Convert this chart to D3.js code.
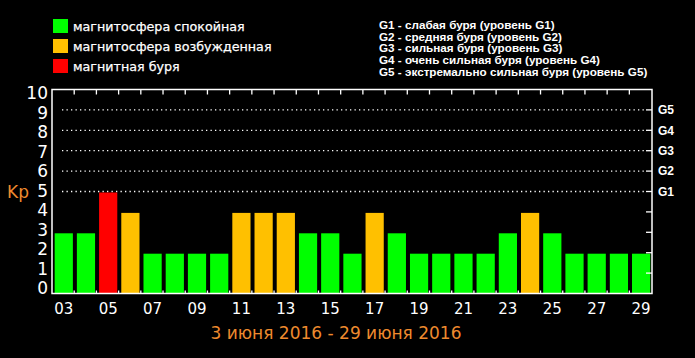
<!DOCTYPE html>
<html><head><meta charset="utf-8">
<script src="https://cdn.jsdelivr.net/npm/d3@7"></script>
<style>html,body{margin:0;padding:0;background:#000;overflow:hidden}</style>
</head><body>
<svg id="c" width="695" height="358"></svg>
<script>
const days = ["03","04","05","06","07","08","09","10","11","12","13","14","15","16","17","18","19","20","21","22","23","24","25","26","27","28","29"];
const kp =   [3,3,5,4,2,2,2,2,4,4,4,3,3,2,4,3,2,2,2,2,3,4,3,2,2,2,2];
const yTicks = [0,1,2,3,4,5,6,7,8,9,10];
const gLevels = [5,6,7,8,9];
const gLabels = ["G1","G2","G3","G4","G5"];
const legendLabels = ["магнитосфера спокойная","магнитосфера возбужденная","магнитная буря"];
const legendColors = ["#00ff00","#ffc000","#ff0000"];
const gLegend = ["G1 - слабая буря (уровень G1)","G2 - средняя буря (уровень G2)","G3 - сильная буря (уровень G3)","G4 - очень сильная буря (уровень G4)","G5 - экстремально сильная буря (уровень G5)"];
const title = "3 июня 2016 - 29 июня 2016";
const yLabel = "Kp";

const svg = d3.select("#c");
svg.append("rect").attr("width",695).attr("height",358).attr("fill","#000");
const L=52, R=652, T=89.5, B=293.5;
const x = d3.scaleBand().domain(days).range([L,R]).paddingInner(0.18).paddingOuter(0.1).align(0.6);
const y = d3.scaleLinear().domain([0,10]).range([B,T]);
const yLab = d3.scaleLinear().domain([0,10]).range([288,93]);
const colorFor = v => v>=5 ? legendColors[2] : (v>=4 ? legendColors[1] : legendColors[0]);
const orange = "#ee8a2e";
const step = x.step();

// dotted grid lines for G levels
svg.append("g").selectAll("line").data(gLevels).join("line")
  .attr("x1",62).attr("x2",R-6).attr("y1",d=>y(d)).attr("y2",d=>y(d))
  .attr("stroke","#fff").attr("stroke-width",1.3).attr("stroke-dasharray","1.3,3.2");

// bars
svg.append("g").selectAll("rect").data(days).join("rect")
  .attr("x",d=>x(d)).attr("width",x.bandwidth())
  .attr("y",(d,i)=>y(kp[i])+1).attr("height",(d,i)=>B-y(kp[i])-1)
  .attr("fill",(d,i)=>colorFor(kp[i]));

// frame
svg.append("rect").attr("x",L).attr("y",T).attr("width",R-L).attr("height",B-T)
  .attr("fill","none").attr("stroke","#fff").attr("stroke-width",1.5);

// top and bottom ticks at day boundaries
const bounds = d3.range(1,days.length).map(k=>L+k*step);
svg.append("g").selectAll("line").data(bounds).join("line")
  .attr("x1",d=>d).attr("x2",d=>d).attr("y1",T).attr("y2",T+5).attr("stroke","#fff").attr("stroke-width",1.3);
svg.append("g").selectAll("line").data(bounds).join("line")
  .attr("x1",d=>d).attr("x2",d=>d).attr("y1",B).attr("y2",B-3).attr("stroke","#fff").attr("stroke-width",1.3);

// right ticks
svg.append("g").selectAll("line").data(yTicks.slice(1,10)).join("line")
  .attr("x1",R-6).attr("x2",R).attr("y1",d=>y(d)).attr("y2",d=>y(d)).attr("stroke","#fff").attr("stroke-width",1.3);

// left labels
svg.append("g").selectAll("text").data(yTicks).join("text")
  .attr("x",48).attr("y",d=>yLab(d)).attr("dy","0.36em").attr("text-anchor","end")
  .attr("fill","#fff").attr("font-family","DejaVu Sans, Verdana, sans-serif").attr("font-size",17)
  .text(d=>d);

// G labels right
svg.append("g").selectAll("text").data(gLevels).join("text")
  .attr("x",658).attr("y",(d)=>y(d)).attr("dy","0.36em")
  .attr("fill","#fff").attr("font-family","Liberation Sans, Arial, sans-serif").attr("font-weight","bold").attr("font-size",12)
  .text((d,i)=>gLabels[i]);

// x labels
svg.append("g").selectAll("text").data(days.filter((d,i)=>i%2===0)).join("text")
  .attr("x",d=>x(d)+x.bandwidth()/2).attr("y",309).attr("dy","0.36em").attr("text-anchor","middle")
  .attr("fill","#fff").attr("font-family","DejaVu Sans, Verdana, sans-serif").attr("font-size",15)
  .text(d=>d);

// Kp label
svg.append("text").attr("x",7).attr("y",192).attr("dy","0.36em")
  .attr("fill",orange).attr("font-family","DejaVu Sans, Verdana, sans-serif").attr("font-size",17).text(yLabel);

// title
svg.append("text").attr("x",336).attr("y",333).attr("dy","0.36em").attr("text-anchor","middle")
  .attr("fill",orange).attr("font-family","DejaVu Sans, Verdana, sans-serif").attr("font-size",17).text(title);

// legend left
const lg = svg.append("g");
lg.selectAll("rect").data(legendColors).join("rect")
  .attr("x",53).attr("y",(d,i)=>19+i*20).attr("width",15).attr("height",14).attr("fill",d=>d);
lg.selectAll("text").data(legendLabels).join("text")
  .attr("x",73).attr("y",(d,i)=>26+i*20).attr("dy","0.36em")
  .attr("fill","#fff").attr("font-family","DejaVu Sans, Verdana, sans-serif").attr("font-size",12.7)
  .attr("stroke","#fff").attr("stroke-width",0.25)
  .text(d=>d);

// legend right
svg.append("g").selectAll("text").data(gLegend).join("text")
  .attr("x",379).attr("y",(d,i)=>24.5+i*11.8).attr("dy","0.36em")
  .attr("fill","#fff").attr("font-family","Liberation Sans, Arial, sans-serif").attr("font-weight","bold").attr("font-size",11.7)
  .text(d=>d);
</script>
</body></html>
